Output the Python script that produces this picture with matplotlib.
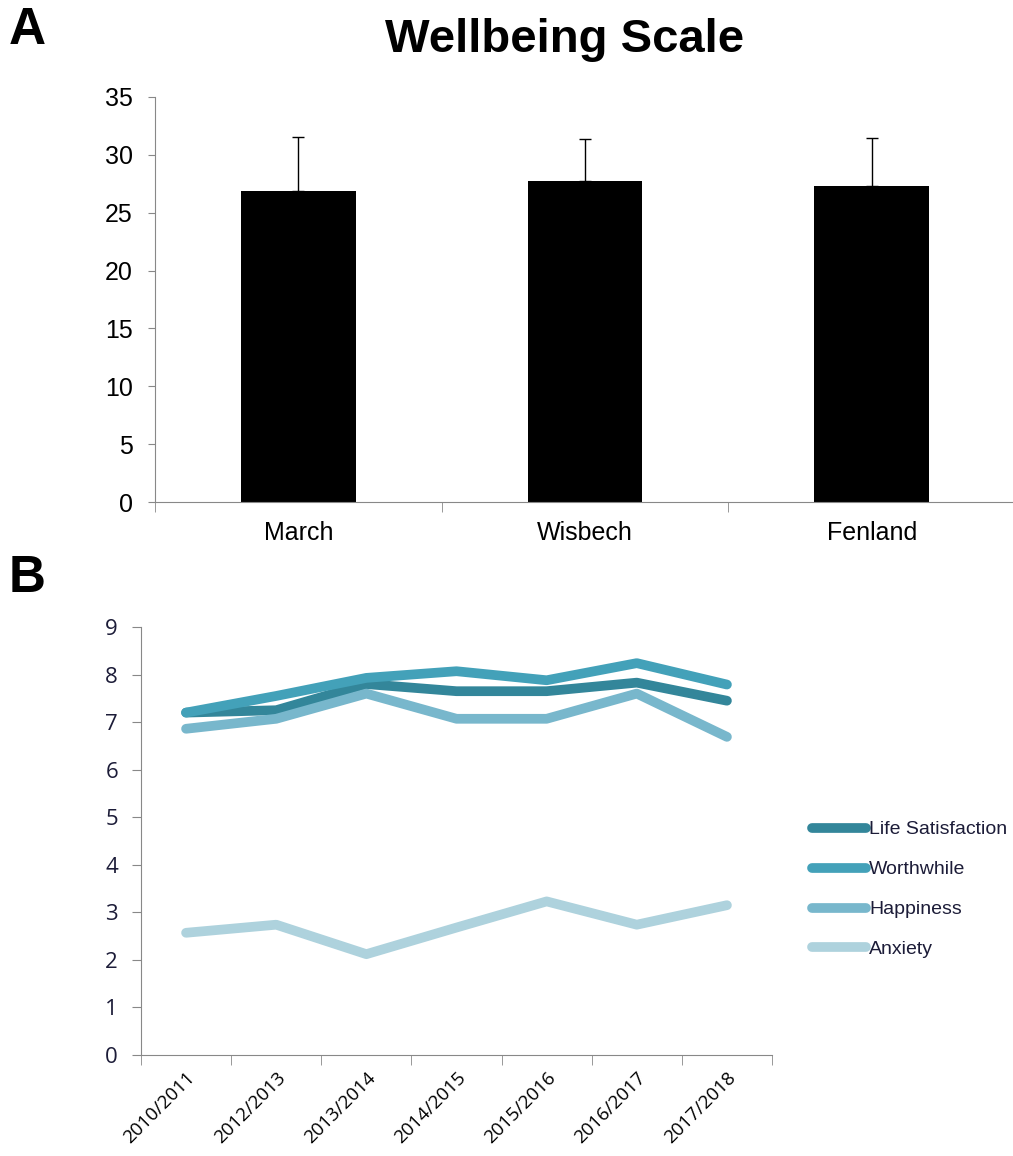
import matplotlib
matplotlib.use("Agg")
import matplotlib.pyplot as plt
import numpy as np

# Panel A: wellbeing scale by area
areas = ["March", "Wisbech", "Fenland"]
wellbeing_mean = [26.85, 27.75, 27.3]
wellbeing_err = [4.7, 3.6, 4.15]

# Panel B: ONS personal wellbeing measures
years = ["2010/2011", "2012/2013", "2013/2014", "2014/2015",
         "2015/2016", "2016/2017", "2017/2018"]
life_satisfaction = [7.2, 7.25, 7.8, 7.65, 7.65, 7.83, 7.45]
worthwhile = [7.2, 7.55, 7.93, 8.07, 7.88, 8.24, 7.79]
happiness = [6.86, 7.07, 7.6, 7.07, 7.07, 7.6, 6.69]
anxiety = [2.57, 2.74, 2.12, 2.68, 3.23, 2.74, 3.15]

series = [
    ("Life Satisfaction", life_satisfaction, "#33869A"),
    ("Worthwhile", worthwhile, "#43A1B9"),
    ("Happiness", happiness, "#78B7CC"),
    ("Anxiety", anxiety, "#AED2DD"),
]

plt.rcParams["font.family"] = ["Liberation Sans", "DejaVu Sans"]

fig = plt.figure(figsize=(10.13, 11.56), dpi=100)
W, H = 1013, 1156


def px_axes(left, top, right, bottom):
    return fig.add_axes([left / W, 1 - bottom / H, (right - left) / W, (bottom - top) / H])


# ---- A ----
ax = px_axes(155, 97, 1015, 502)
x = np.arange(len(areas))
ax.bar(x, wellbeing_mean, width=0.4, color="black", zorder=2)
ax.errorbar(x, wellbeing_mean, yerr=[np.zeros(3), wellbeing_err], fmt="none",
            ecolor="black", elinewidth=1, capsize=4, capthick=1, zorder=1)
ax.set_xlim(-0.5, 2.5)
ax.set_ylim(0, 35)
ax.set_yticks(range(0, 36, 5))
ax.set_xticks(x)
ax.set_xticklabels(areas, fontsize=18)
ax.set_xticks(np.arange(-0.5, 2.6, 1), minor=True)
ax.tick_params(axis="x", which="major", length=0, pad=14)
ax.tick_params(axis="x", which="minor", length=7, color="#888888", direction="out")
ax.tick_params(axis="y", length=5, color="#888888", labelsize=18, pad=11)
for s in ["top", "right"]:
    ax.spines[s].set_visible(False)
for s in ["left", "bottom"]:
    ax.spines[s].set_color("#888888")

fig.text(565 / W, 1 - 40 / H, "Wellbeing Scale", fontsize=34, fontweight="bold",
         ha="center", va="center")
fig.text(9 / W, 1 - 31 / H, "A", fontsize=37, fontweight="bold", va="center")
fig.text(9 / W, 1 - 578 / H, "B", fontsize=37, fontweight="bold", va="center")

# ---- B ----
bx = px_axes(141, 627, 772, 1055)
pos = np.arange(len(years))
for name, vals, col in series:
    bx.plot(pos, vals, color=col, lw=7, label=name, solid_capstyle="round",
            solid_joinstyle="round")
bx.set_xlim(-0.5, len(years) - 0.5)
bx.set_ylim(0, 9)
bx.set_yticks(range(0, 10))
bx.set_xticks(pos)
bx.set_xticklabels(years, rotation=45, ha="right", rotation_mode="anchor",
                   fontsize=13.5, family=["Open Sans", "DejaVu Sans"])
bx.set_xticks(np.arange(-0.5, len(years), 1), minor=True)
bx.tick_params(axis="x", which="major", length=0, pad=10)
bx.tick_params(axis="x", which="minor", length=7, color="#888888")
bx.tick_params(axis="y", length=6.5, color="#888888", labelsize=16, pad=10,
               labelcolor="#1c1c38")
for lab in bx.get_yticklabels():
    lab.set_family(["Open Sans", "DejaVu Sans"])
for s in ["top", "right"]:
    bx.spines[s].set_visible(False)
for s in ["left", "bottom"]:
    bx.spines[s].set_color("#888888")

leg = bx.legend(loc="upper left", bbox_to_anchor=(804 / W, 1 - 813 / H),
                bbox_transform=fig.transFigure, frameon=False, fontsize=14,
                handlelength=2.8, handletextpad=0.15, labelspacing=1.15,
                borderaxespad=0)
for t in leg.get_texts():
    t.set_color("#1c1c38")

fig.savefig("out.png", dpi=100)
